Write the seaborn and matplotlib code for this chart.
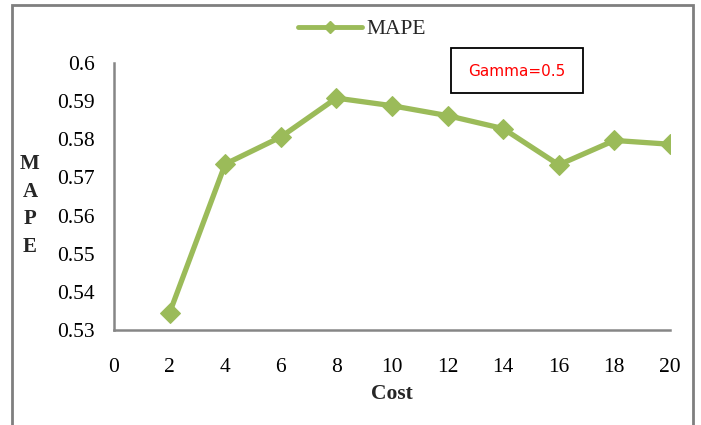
import matplotlib
matplotlib.use("Agg")
import matplotlib.pyplot as plt
import seaborn as sns
import pandas as pd
from matplotlib.lines import Line2D
from matplotlib.patches import Rectangle

cost = [2, 4, 6, 8, 10, 12, 14, 16, 18, 20]
mape = [0.5345, 0.5735, 0.5806, 0.5908, 0.5888, 0.5862, 0.5828, 0.5733, 0.5797, 0.5787]
xticks = [0, 2, 4, 6, 8, 10, 12, 14, 16, 18, 20]
yticks = [0.53, 0.54, 0.55, 0.56, 0.57, 0.58, 0.59, 0.6]
ytick_labels = ["0.53", "0.54", "0.55", "0.56", "0.57", "0.58", "0.59", "0.6"]

sns.set_theme(style="white")
plt.rcParams['font.family'] = ['Liberation Serif', 'DejaVu Serif']

W, H = 701, 425
fig = plt.figure(figsize=(W / 100, H / 100), dpi=100)
ax = fig.add_axes([114 / W, 1 - 330 / H, (670 - 114) / W, (330 - 63) / H])

green = "#9BBB59"
gray = "#868686"
df = pd.DataFrame({"Cost": cost, "MAPE": mape})
sns.lineplot(data=df, x="Cost", y="MAPE", ax=ax, color=green, linewidth=3.8,
             marker="D", markersize=10, markeredgecolor=green, legend=False)

ax.set_xlim(0, 20)
ax.set_ylim(0.53, 0.6)
ax.set_xticks(xticks)
ax.set_xticklabels([str(t) for t in xticks])
ax.set_yticks(yticks)
ax.set_yticklabels(ytick_labels)
for s in ["top", "right"]:
    ax.spines[s].set_visible(False)
for s in ["left", "bottom"]:
    ax.spines[s].set_color(gray)
    ax.spines[s].set_linewidth(1.8)
ax.tick_params(axis="both", which="both", direction="out", length=4, width=1.5,
               color=gray, labelsize=15.5, labelcolor="black")
ax.tick_params(axis="x", pad=16)
ax.tick_params(axis="y", pad=10)
ax.set_xlabel("Cost", fontsize=15.5, fontweight="bold", labelpad=5)
ax.set_ylabel("")

for i, ch in enumerate("MAPE"):
    fig.text(30 / W, 1 - (164 + i * 27.7) / H, ch, fontsize=15, fontweight="bold",
             ha="center", va="center")

handle = Line2D([0], [0], color=green, linewidth=3.5, marker="D", markersize=6,
                markeredgecolor=green)
fig.legend([handle], ["MAPE"], loc="center", bbox_to_anchor=(362 / W, 1 - 29 / H),
           frameon=False, fontsize=15.5, handlelength=3.0, handletextpad=0.2)

fig.text(517 / W, 1 - 71 / H, "Gamma=0.5", color="#FF0000", fontsize=11,
         family=["Liberation Sans Narrow", "DejaVu Sans"], ha="center", va="center")
fig.patches.append(Rectangle((451 / W, 1 - 93 / H), (583 - 451) / W, (93 - 48) / H,
                             transform=fig.transFigure, fill=False, edgecolor="black",
                             linewidth=1.3))
fig.patches.append(Rectangle((12 / W, -0.1), (693 - 12) / W, 1 - 5 / H + 0.1,
                             transform=fig.transFigure, fill=False, edgecolor="#7f7f7f",
                             linewidth=2))

fig.savefig("out.png", dpi=100)
